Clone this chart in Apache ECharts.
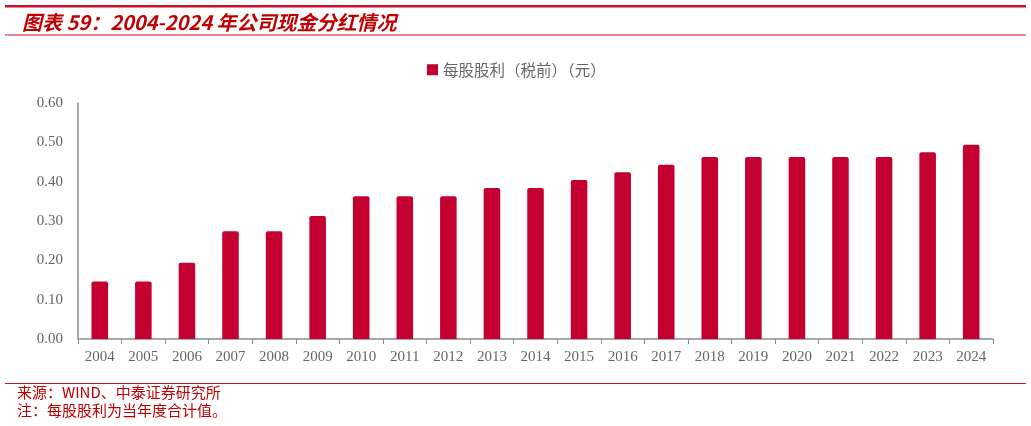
<!DOCTYPE html>
<html><head><meta charset="utf-8">
<script src="https://cdn.jsdelivr.net/npm/echarts@6/dist/echarts.min.js"></script>
<style>html,body{margin:0;padding:0;background:#fff}#c{width:1031px;height:426px}</style>
</head><body><div id="c"></div>
<script>
const years = ['2004','2005','2006','2007','2008','2009','2010','2011','2012','2013','2014','2015','2016','2017','2018','2019','2020','2021','2022','2023','2024'];
const dps = [0.146,0.146,0.194,0.274,0.274,0.313,0.363,0.363,0.363,0.384,0.384,0.404,0.424,0.443,0.463,0.463,0.463,0.463,0.463,0.475,0.494];
const yTicks = [0,0.1,0.2,0.3,0.4,0.5,0.6];
const seriesName = '每股股利（税前）（元）';
const titleText = '图表 59：2004-2024 年公司现金分红情况';
const sourceText = '来源：WIND、中泰证券研究所';
const noteText = '注：每股股利为当年度合计值。';

const red = '#C8102E';
const chart = echarts.init(document.getElementById('c'));
chart.setOption({
  animation: false,
  title: {
    text: titleText, left: 17, top: 7,
    textStyle: {color: '#C00000', fontSize: 20, fontStyle: 'italic', fontWeight: 'bold', fontFamily: 'Noto Sans CJK SC'}
  },
  legend: {
    data: [seriesName], top: 57, left: 422,
    itemWidth: 11, itemHeight: 11, icon: 'rect', itemGap: 3,
    textStyle: {color: '#666', fontSize: 15.5, fontFamily: 'Noto Sans CJK SC'}
  },
  grid: {left: 78, right: 38, top: 103, bottom: 87},
  xAxis: {
    type: 'category', data: years,
    axisLine: {lineStyle: {color: '#8c8c8c', width: 1.5}},
    axisTick: {show: true, alignWithLabel: false, length: 5, lineStyle: {color: '#8c8c8c'}},
    axisLabel: {color: '#666', fontSize: 15, fontFamily: 'Liberation Serif', margin: 11}
  },
  yAxis: {
    type: 'value', min: 0, max: 0.6, interval: 0.1,
    axisLine: {show: true, lineStyle: {color: '#8c8c8c', width: 1.5}},
    axisTick: {show: false},
    splitLine: {show: false},
    axisLabel: {color: '#666', fontSize: 15, fontFamily: 'Liberation Serif', margin: 15,
      formatter: v => v.toFixed(2)}
  },
  series: [{
    name: seriesName, type: 'bar', data: dps, barWidth: '38%',
    itemStyle: {color: '#C3002F', borderRadius: [2,2,0,0]}
  }],
  graphic: [
    {type: 'rect', shape: {x: 5, y: 5, width: 1021, height: 2.5}, style: {fill: red}},
    {type: 'rect', shape: {x: 5, y: 34.5, width: 1021, height: 1}, style: {fill: red}},
    {type: 'rect', shape: {x: 5, y: 383, width: 1021, height: 1}, style: {fill: red}},
    {type: 'text', left: 17, top: 385, style: {text: sourceText, fill: '#C00000', fontSize: 15, fontFamily: 'Noto Sans CJK SC'}},
    {type: 'text', left: 17, top: 403, style: {text: noteText, fill: '#C00000', fontSize: 15, fontFamily: 'Noto Sans CJK SC'}}
  ]
});
</script></body></html>
